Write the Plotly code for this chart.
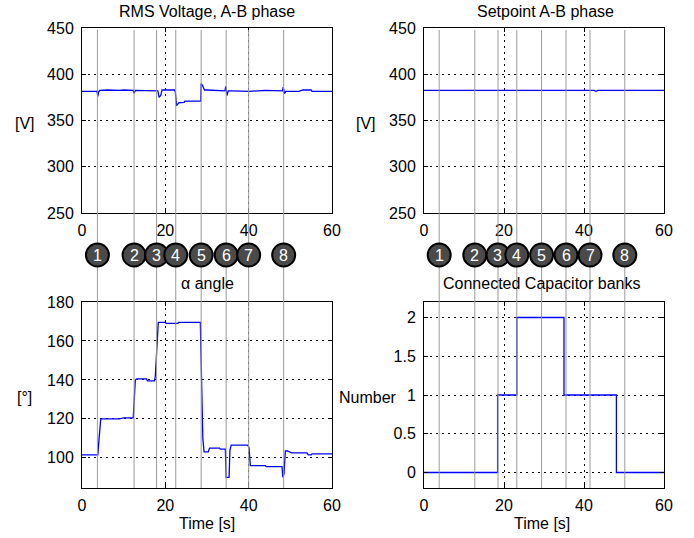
import plotly.graph_objects as go

# ---------------- data ----------------
rms_t = [0, 3.6, 3.8, 4.0, 4.3, 6, 9, 10, 12.3, 12.5, 12.8, 15, 18.2, 18.5, 18.9, 19.2,
         22.2, 22.4, 22.7, 23.2, 24.5, 24.7, 28.5, 28.6, 28.9, 29.4, 30, 34.3, 34.5, 34.8,
         35.1, 36, 40, 44, 48.1, 48.3, 48.6, 48.9, 52, 53, 55, 55.2, 60]
rms_v = [381.5, 381.5, 376, 381, 382.5, 383, 382.5, 383, 382.5, 379.5, 382.5, 382, 382, 375,
         377, 383, 383, 381, 366, 369, 369.5, 371, 371, 390, 388, 383, 383, 382, 387, 377,
         382, 382, 381.5, 382.5, 382, 386, 379, 381.5, 381.5, 383, 383, 381.5, 381.5]

set_t = [0, 42.5, 43, 43.5, 60]
set_v = [382.5, 382.5, 381.5, 382.5, 382.5]

alpha_t = [0, 3.8, 4.1, 4.5, 9, 10, 12.3, 12.5, 12.8, 13.2, 15.5, 15.7, 17.4, 17.6, 18.0,
           18.3, 20, 20.2, 23, 23.2, 28.4, 28.7, 29.0, 29.3, 30.3, 30.6, 33, 33.2, 34.4,
           34.6, 35.3, 35.5, 35.8, 36, 39.8, 40.1, 40.4, 44, 44.2, 48.0, 48.2, 48.5, 48.8,
           49.3, 50, 50.3, 54, 54.3, 55, 55.2, 60]
alpha_v = [101.5, 101.5, 110, 120, 120, 120.5, 120.5, 131, 140, 140.5, 140.5, 139.5, 139.5,
           142, 160, 169.5, 169.5, 169, 169, 169.5, 169.5, 145, 110, 103, 103, 105, 105,
           104.5, 104.5, 90, 90, 104, 106.5, 106.5, 106.5, 105, 96, 96, 95.5, 95.5, 90, 92,
           103.5, 103.5, 103, 102.5, 102.5, 101.5, 101.5, 102, 102]

cap_t = [0, 18.4, 23.2, 35.0, 48.1, 60]
cap_n = [0, 1, 2, 1, 0, 0]

event_labels = ["1", "2", "3", "4", "5", "6", "7", "8"]
event_t_left = [3.7, 12.5, 17.9, 22.5, 28.6, 34.6, 40.0, 48.4]
event_t_right = [3.8, 12.7, 18.5, 23.2, 29.4, 35.5, 41.5, 50.2]

titles = ["RMS Voltage, A-B phase", "Setpoint A-B phase", "α angle", "Connected Capacitor banks"]

# ---------------- figure ----------------
W, H = 694, 538
FONT = "Liberation Sans, Arial, sans-serif"
BLUE = "#0000ff"

def py(p):  # pixel y from top -> paper
    return 1 - p / H

def px(p):
    return p / W

dom_x_left = [px(82), px(332)]
dom_x_right = [px(424), px(664)]
dom_y_top = [py(213), py(28)]
dom_y_bot = [py(488), py(302)]

fig = go.Figure()
fig.add_trace(go.Scatter(x=rms_t, y=rms_v, mode="lines", line=dict(color=BLUE, width=1.3),
                         xaxis="x", yaxis="y"))
fig.add_trace(go.Scatter(x=set_t, y=set_v, mode="lines", line=dict(color=BLUE, width=1.3),
                         xaxis="x2", yaxis="y2"))
fig.add_trace(go.Scatter(x=alpha_t, y=alpha_v, mode="lines", line=dict(color=BLUE, width=1.3),
                         xaxis="x3", yaxis="y3"))
fig.add_trace(go.Scatter(x=cap_t, y=cap_n, mode="lines", line=dict(color=BLUE, width=1.3, shape="hv"),
                         xaxis="x4", yaxis="y4"))

common_axis = dict(
    showline=True, linecolor="black", linewidth=1, mirror="ticks",
    ticks="inside", ticklen=4, tickcolor="black", automargin=False,
    showgrid=True, gridcolor="black", gridwidth=1, griddash="2px,4px",
    zeroline=False, tickfont=dict(family=FONT, size=16, color="black"),
)

def xax(domain, anchor):
    d = dict(common_axis)
    d.update(domain=domain, anchor=anchor, range=[0, 60], tickvals=[0, 20, 40, 60],
             ticklabelstandoff=3)
    return d

def yax(domain, anchor, rng, vals, text=None):
    d = dict(common_axis)
    d.update(domain=domain, anchor=anchor, range=rng, tickvals=vals, ticklabelstandoff=4)
    if text is not None:
        d["ticktext"] = text
    return d

fig.update_layout(
    width=W, height=H, margin=dict(l=0, r=0, t=0, b=0, autoexpand=False),
    paper_bgcolor="white", plot_bgcolor="rgba(0,0,0,0)", showlegend=False,
    font=dict(family=FONT, size=16, color="black"),
    xaxis=xax(dom_x_left, "y"),
    yaxis=yax(dom_y_top, "x", [250, 450], [250, 300, 350, 400, 450]),
    xaxis2=xax(dom_x_right, "y2"),
    yaxis2=yax(dom_y_top, "x2", [250, 450], [250, 300, 350, 400, 450]),
    xaxis3=xax(dom_x_left, "y3"),
    yaxis3=yax(dom_y_bot, "x3", [84.5, 180], [100, 120, 140, 160, 180]),
    xaxis4=xax(dom_x_right, "y4"),
    yaxis4=yax(dom_y_bot, "x4", [-0.2, 2.2], [0, 0.5, 1, 1.5, 2], ["0", "0.5", "1", "1.5", "2"]),
)

ann = []
# titles
for txt, xc, yc in zip(titles, [207, 545, 207, 541], [12, 12, 283, 283]):
    ann.append(dict(text=txt, x=px(xc), y=py(yc), xref="paper", yref="paper",
                    showarrow=False, xanchor="center", yanchor="middle",
                    font=dict(family=FONT, size=16, color="black")))
# y titles
for txt, xc, yc in [("[V]", 25, 123), ("[V]", 366, 123), ("[°]", 24, 397), ("Number", 368, 397)]:
    ann.append(dict(text=txt, x=px(xc), y=py(yc), xref="paper", yref="paper",
                    showarrow=False, xanchor="center", yanchor="middle",
                    font=dict(family=FONT, size=16, color="black")))
# x titles
for xc in [207, 542]:
    ann.append(dict(text="Time [s]", x=px(xc), y=py(523), xref="paper", yref="paper",
                    showarrow=False, xanchor="center", yanchor="middle",
                    font=dict(family=FONT, size=16, color="black")))

shapes = []
circle_y = py(255)
for xref, times in [("x", event_t_left), ("x2", event_t_right)]:
    for t in times:
        shapes.append(dict(type="line", xref=xref, yref="paper", x0=t, x1=t,
                           y0=py(488), y1=py(30), line=dict(color="#9a9a9a", width=1),
                           layer="above"))
for xref, times in [("x", event_t_left), ("x2", event_t_right)]:
    for t, lab in zip(times, event_labels):
        shapes.append(dict(type="circle", xref=xref, yref="paper", xsizemode="pixel",
                           ysizemode="pixel", xanchor=t, yanchor=circle_y,
                           x0=-11.5, x1=11.5, y0=-11.5, y1=11.5,
                           fillcolor="#4a4a4a", line=dict(color="black", width=2),
                           layer="above"))
        ann.append(dict(text=lab, x=t, y=circle_y, xref=xref, yref="paper",
                        showarrow=False, xanchor="center", yanchor="middle",
                        font=dict(family=FONT, size=16, color="white")))

fig.update_layout(annotations=ann, shapes=shapes)
fig.write_html("out.html", config={"displayModeBar": False},
               post_script="document.body.style.margin='0';document.body.style.padding='0';")
